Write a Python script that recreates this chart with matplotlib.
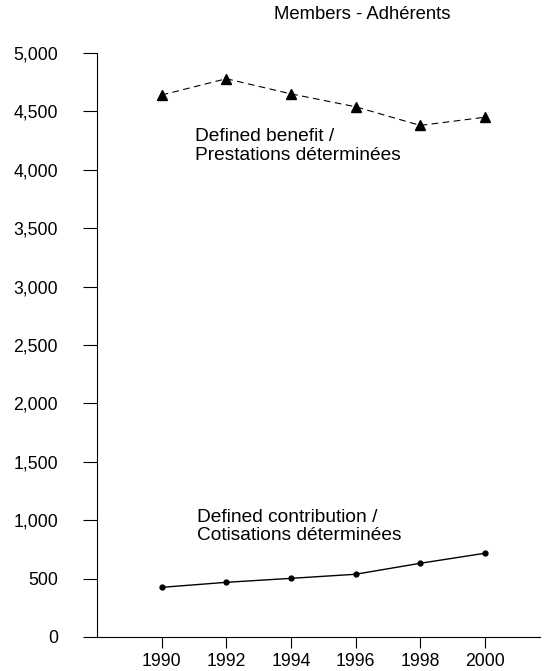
import matplotlib.pyplot as plt

plt.rcParams["font.family"] = ["Liberation Sans", "DejaVu Sans"]

years = [1990, 1992, 1994, 1996, 1998, 2000]
defined_benefit = [4640, 4780, 4650, 4540, 4380, 4450]
defined_contribution = [425, 468, 502, 537, 631, 717]
y_ticks = [0, 500, 1000, 1500, 2000, 2500, 3000, 3500, 4000, 4500, 5000]

fig = plt.figure(figsize=(5.48, 6.71), dpi=100)
ax = fig.add_axes([0.177, 0.0507, 0.808, 0.8703])

ax.plot(years, defined_benefit, color="black", linestyle=(0, (6, 4)), linewidth=0.8,
        marker="^", markersize=7)
ax.plot(years, defined_contribution, color="black", linestyle="-", linewidth=1.0,
        marker="o", markersize=3.5)

ax.set_xlim(1988, 2001.7)
ax.set_ylim(0, 5000)
ax.set_xticks(years)
ax.set_yticks(y_ticks, [f"{v:,}" for v in y_ticks])
ax.tick_params(axis="y", length=10, width=0.8, labelsize=12.7, pad=18)
ax.tick_params(axis="x", length=8, width=0.8, labelsize=12.7, pad=3.5)

for side in ["top", "right"]:
    ax.spines[side].set_visible(False)
ax.spines["left"].set_linewidth(0.8)
ax.spines["bottom"].set_linewidth(0.8)

ax.text(1991.02, 4360, "Defined benefit /\nPrestations déterminées", fontsize=13.8,
        linespacing=1.15, va="top", ha="left")
ax.text(1991.1, 1100, "Defined contribution /\nCotisations déterminées", fontsize=13.8,
        linespacing=1.15, va="top", ha="left")

fig.text(0.661, 0.978, "Members - Adhérents", fontsize=13.3, ha="center", va="center")

fig.savefig("out.png", dpi=100)
